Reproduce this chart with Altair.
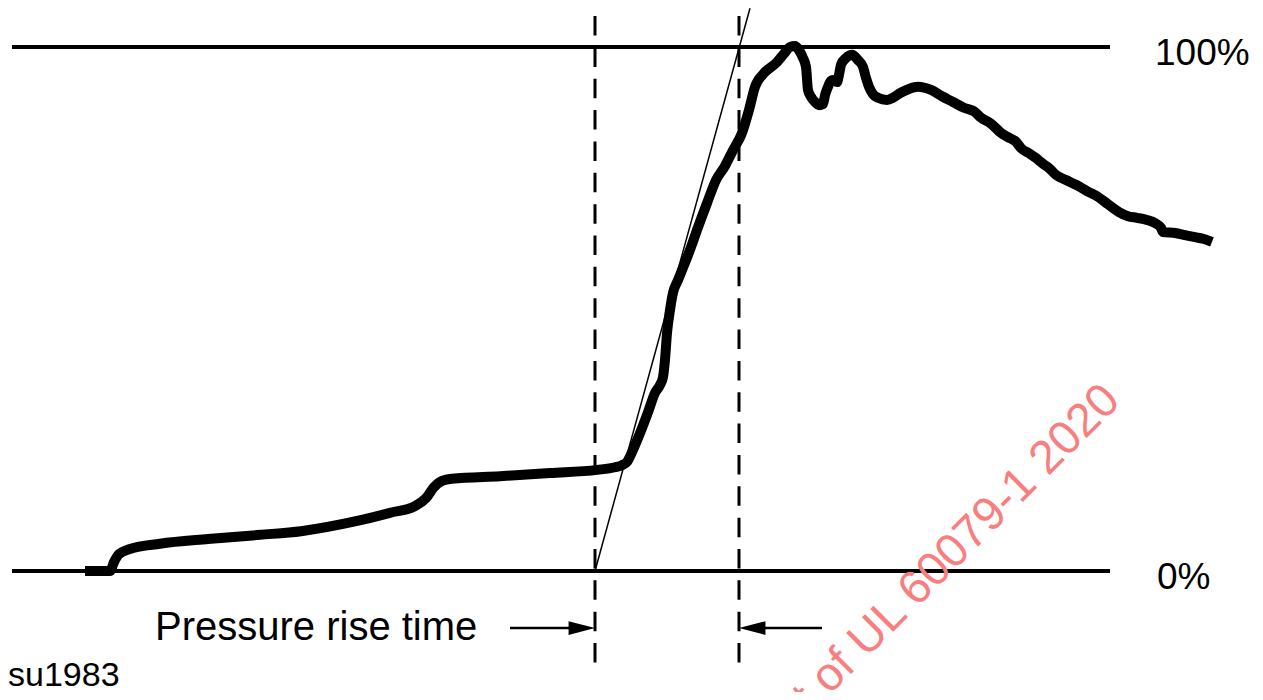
import altair as alt
import pandas as pd

# ---- data (time: arbitrary units, pressure: % of peak) ----
time = [7.7, 10.2, 10.6, 11.1, 12.2, 15.2, 20.0, 25.2, 29.3, 34.8, 38.2, 40.7, 41.8, 42.6,
        43.4, 44.4, 49.2, 54.2, 58.9, 60.7, 61.4, 61.9, 62.5, 63.2, 64.0, 64.7, 65.2, 65.5,
        65.7, 65.9, 66.2, 66.5, 67.0, 67.4, 68.2, 69.0, 69.9, 70.8, 71.7, 72.5, 73.4, 74.1, 74.7,
        75.6, 76.9, 77.6, 78.2, 78.7, 79.1, 79.5, 79.8, 80.0, 80.3, 80.7, 81.1, 81.5, 81.7,
        82.0, 82.2, 82.5, 82.9, 83.1, 83.3, 83.8, 84.4, 85.0, 85.5, 85.8, 86.1, 86.5, 87.0,
        87.9, 88.5, 89.2, 90.1, 91.0, 92.3, 93.4, 94.5, 95.6, 96.7, 97.3, 98.2, 98.8, 99.3,
        100.0, 100.8, 101.3, 102.2, 102.8, 103.5, 104.1, 104.8, 105.8, 106.8, 107.9, 109.0,
        110.0, 111.1, 112.0, 112.9, 113.9, 114.7, 115.3, 115.5, 116.7, 117.7, 118.7, 119.5,
        120.4]
pressure = [0.0, 0.0, 1.7, 3.2, 4.2, 5.2, 6.1, 6.9, 7.6, 9.5, 11.1, 12.4, 13.9, 16.0,
            17.2, 17.6, 18.1, 18.7, 19.3, 19.8, 20.2, 20.8, 23.1, 26.3, 30.3, 34.0, 35.5, 37.0,
            40.3, 45.4, 49.8, 53.1, 55.5, 57.4, 61.3, 65.6, 70.2, 74.6, 77.3, 80.3, 83.6, 88.0, 92.4,
            95.0, 97.1, 98.7, 100.0, 100.2, 99.4, 97.9, 96.2, 91.8, 90.5, 89.5, 88.9, 89.1, 90.8,
            92.4, 93.3, 93.7, 93.3, 94.7, 96.6, 97.9, 98.5, 97.5, 96.2, 94.1, 92.4, 91.0, 90.3,
            89.9, 90.3, 91.2, 92.0, 92.4, 91.8, 90.6, 89.5, 88.4, 87.6, 86.5, 85.5, 84.5, 83.6,
            82.8, 81.9, 80.7, 79.6, 78.8, 77.7, 76.9, 75.6, 74.6, 73.7, 72.5, 71.4,
            70.0, 68.5, 67.7, 67.4, 67.0, 66.4, 65.5, 64.7, 64.5, 64.1, 63.7, 63.4,
            62.8]

ref_levels = [0, 100]                # 0 % and 100 % reference lines
ref_span = [0.4, 110.2]              # time extent of the reference lines
marker_times = [58.7, 73.1]          # start / end of pressure rise (dashed lines)
marker_span = [105.9, -17.9]         # pressure extent of the dashed lines
tangent_t = [58.7, 74.2]
tangent_p = [0.0, 107.4]
arrow_level = -10.9
arrow_left = [50.2, 57.0]            # shaft of the arrow pointing right
arrow_right = [75.0, 81.4]           # shaft of the arrow pointing left

pct_texts = ["100%", "0%"]
pct_t = [114.7, 114.9]
pct_p = [96.6, -3.4]
rise_text = "Pressure rise time"
rise_t, rise_p = 14.7, -13.2
code_text = "su1983"
watermark_text = "Excerpt of UL 60079-1 2020"

# ---- scales ----
xs = alt.Scale(domain=[0, 124.7], nice=False, zero=False)
ys = alt.Scale(domain=[-23.09, 107.44], nice=False, zero=False)
X = alt.X("t:Q", scale=xs, axis=None)
Y = alt.Y("p:Q", scale=ys, axis=None)
FONT = "Liberation Sans"

ref_df = pd.DataFrame({"p": ref_levels, "t": ref_span[0], "t2": ref_span[1]})
refs = alt.Chart(ref_df).mark_rule(color="black", strokeWidth=4).encode(
    x=X, x2="t2:Q", y=Y)

mk_df = pd.DataFrame({"t": marker_times, "p": marker_span[0], "p2": marker_span[1]})
markers = alt.Chart(mk_df).mark_rule(color="black", strokeWidth=3,
                                     strokeDash=[19.5, 11.85]).encode(x=X, y=Y, y2="p2:Q")

curve_df = pd.DataFrame({"t": time, "p": pressure})
curve = alt.Chart(curve_df).mark_line(color="black", strokeWidth=10, interpolate="monotone",
                                      strokeCap="butt", strokeJoin="round").encode(x=X, y=Y)

tan_df = pd.DataFrame({"t": tangent_t, "p": tangent_p})
tangent = alt.Chart(tan_df).mark_line(color="black", strokeWidth=1.5).encode(x=X, y=Y)

shaft_df = pd.DataFrame({"t": [arrow_left[0], arrow_right[0]],
                         "t2": [arrow_left[1], arrow_right[1]], "p": arrow_level})
shafts = alt.Chart(shaft_df).mark_rule(color="black", strokeWidth=2.5).encode(
    x=X, x2="t2:Q", y=Y)

head_r = alt.Chart(pd.DataFrame({"t": [marker_times[0]], "p": [arrow_level]})).mark_point(
    shape="M0,0L-2,-0.52L-2,0.52Z", size=700, filled=True, opacity=1, color="black",
    strokeWidth=0).encode(x=X, y=Y)
head_l = alt.Chart(pd.DataFrame({"t": [marker_times[1]], "p": [arrow_level]})).mark_point(
    shape="M0,0L2,-0.52L2,0.52Z", size=700, filled=True, opacity=1, color="black",
    strokeWidth=0).encode(x=X, y=Y)

pct_df = pd.DataFrame({"t": pct_t, "p": pct_p, "txt": pct_texts})
pct_labels = alt.Chart(pct_df).mark_text(font=FONT, fontSize=37, align="left",
                                         baseline="alphabetic", color="black").encode(
    x=X, y=Y, text="txt:N")

rise_label = alt.Chart(pd.DataFrame({"t": [rise_t], "p": [rise_p], "txt": [rise_text]})).mark_text(
    font=FONT, fontSize=40, align="left", baseline="alphabetic", color="black").encode(
    x=X, y=Y, text="txt:N")

code = alt.Chart(pd.DataFrame({"t": [0.0], "p": [-22.0], "txt": [code_text]})).mark_text(
    font=FONT, fontSize=34, align="left", baseline="alphabetic", color="black").encode(
    x=X, y=Y, text="txt:N")

wm = alt.Chart(pd.DataFrame({"t": [111.4], "p": [32.1], "txt": [watermark_text]})).mark_text(
    font=FONT, fontSize=47, align="right", baseline="alphabetic", angle=315,
    color="#F77F7F").encode(x=X, y=Y, text="txt:N")

chart = alt.layer(refs, markers, curve, tangent, shafts, head_r, head_l,
                  pct_labels, rise_label, code, wm).properties(
    width=1247, height=684, autosize=alt.AutoSizeParams(type="none"), padding=0,
    background="white"
).configure_view(stroke=None)

chart.save("out.html", embed_options={"renderer": "svg", "actions": False})
